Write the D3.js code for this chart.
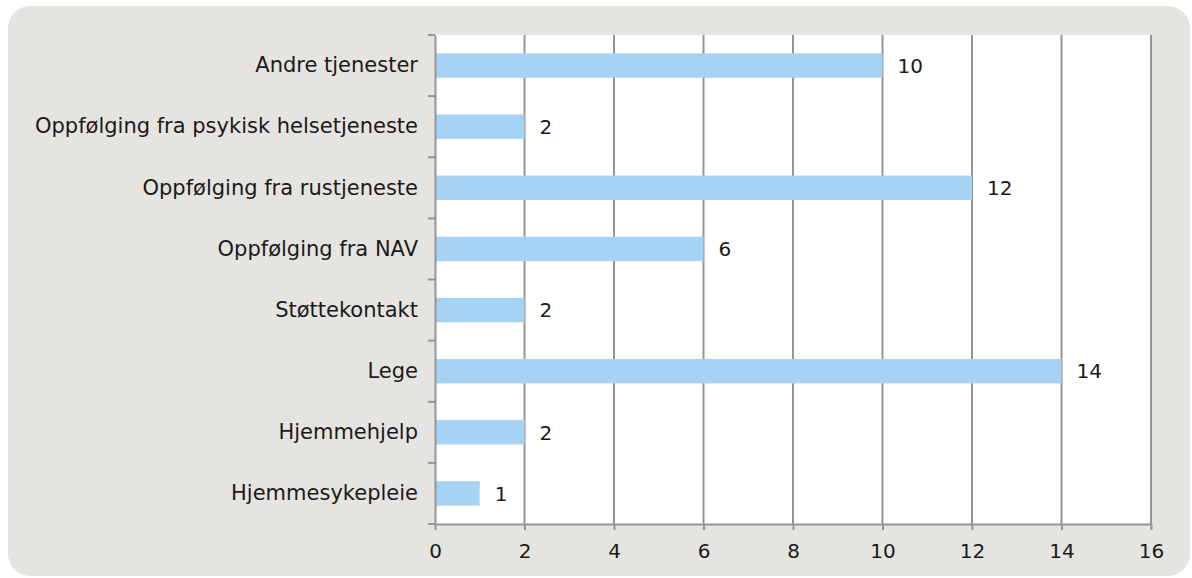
<!DOCTYPE html>
<html><head><meta charset="utf-8">
<script src="https://cdn.jsdelivr.net/npm/d3@7"></script>
<style>
html,body{margin:0;padding:0;background:#fff;}
svg{display:block;}
text{font-family:"DejaVu Sans",Verdana,sans-serif;fill:#1a1a1a;}
</style></head>
<body>
<svg id="chart" width="1192" height="578"></svg>
<script>
const categories = ["Andre tjenester","Oppfølging fra psykisk helsetjeneste","Oppfølging fra rustjeneste","Oppfølging fra NAV","Støttekontakt","Lege","Hjemmehjelp","Hjemmesykepleie"];
const values = [10,2,12,6,2,14,2,1];
const xTicks = [0,2,4,6,8,10,12,14,16];

const svg = d3.select("#chart");
svg.append("rect").attr("x",8).attr("y",6).attr("width",1182).attr("height",570)
  .attr("rx",22).attr("ry",22).attr("fill","#e5e4e0");

const pL=435, pR=1151, pT=35, pB=524;
const x = d3.scaleLinear().domain([0,16]).range([pL,pR]);
const y = d3.scaleBand().domain(categories).range([pT,pB]).paddingInner(0.6).paddingOuter(0.3);
const band = d3.scaleBand().domain(categories).range([pT,pB]);

svg.append("rect").attr("x",pL).attr("y",pT).attr("width",pR-pL).attr("height",pB-pT).attr("fill","#fff");

// gridlines
svg.append("g").selectAll("line").data(xTicks.slice(1)).join("line")
  .attr("x1",d=>x(d)).attr("x2",d=>x(d)).attr("y1",pT).attr("y2",pB)
  .attr("stroke","#959595").attr("stroke-width",2);

// bars
svg.append("g").selectAll("rect").data(values).join("rect")
  .attr("x",x(0)).attr("y",(d,i)=>y(categories[i])).attr("width",d=>x(d)-x(0)).attr("height",y.bandwidth())
  .attr("fill","#a6d3f4");

// value labels
svg.append("g").selectAll("text").data(values).join("text")
  .attr("x",d=>x(d)+15).attr("y",(d,i)=>y(categories[i])+y.bandwidth()/2)
  .attr("dy","0.36em").attr("font-size",20).text(d=>d);

// x axis
const xa = svg.append("g").attr("transform",`translate(0,${pB})`)
  .call(d3.axisBottom(x).tickValues(xTicks).tickSize(6).tickPadding(14).tickSizeOuter(0));
xa.select(".domain").attr("stroke","#959595").attr("stroke-width",2);
xa.selectAll(".tick line").attr("stroke","#959595").attr("stroke-width",2);
xa.selectAll("text").attr("font-size",20).attr("font-family","DejaVu Sans").attr("fill","#1a1a1a");

// y axis
const ya = svg.append("g").attr("transform",`translate(${pL},0)`)
  .call(d3.axisLeft(band).tickSize(0).tickPadding(17));
ya.select(".domain").attr("stroke","#959595").attr("stroke-width",2);
ya.selectAll("text").attr("font-size",21).attr("font-family","DejaVu Sans").attr("fill","#1a1a1a");
// band boundary ticks
const bounds = categories.map(c=>band(c)).concat([pB]);
svg.append("g").selectAll("line").data(bounds).join("line")
  .attr("x1",pL-7).attr("x2",pL).attr("y1",d=>d).attr("y2",d=>d)
  .attr("stroke","#959595").attr("stroke-width",2);
</script>
</body></html>
